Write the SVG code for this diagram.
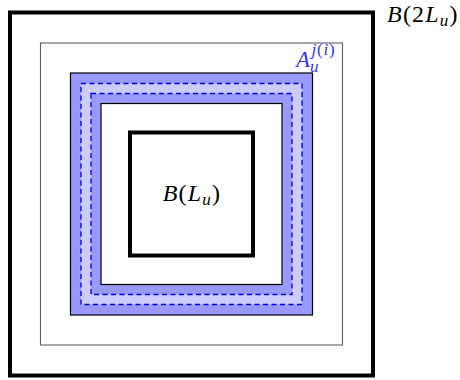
<svg xmlns="http://www.w3.org/2000/svg" width="460" height="380" viewBox="0 0 460 380">
<style>
.thick{fill:none;stroke:#000;stroke-width:4}
.gray{fill:none;stroke:#606060;stroke-width:1.1}
.dash{fill:none;stroke:#0000ee;stroke-width:1.3;stroke-dasharray:5,3.5}
.m{font-family:"Liberation Serif","Times New Roman",serif;font-style:italic;fill:#000}
.r{font-style:normal}
.blue{fill:#3333ff}
</style>
<rect width="460" height="380" fill="#fff"/>
<g id="outer-box">
<rect class="thick" x="10" y="12.5" width="363" height="363"/>
<text class="m" x="387" y="22" font-size="24" letter-spacing="1.2">B<tspan class="r">(2</tspan>L<tspan font-size="17" dy="4">u</tspan><tspan class="r" dy="-4">)</tspan></text>
</g>
<g id="middle-box">
<rect class="gray" x="40.5" y="43" width="302" height="302"/>
</g>
<g id="annulus">
<rect x="70.5" y="73" width="242" height="242" fill="#9999ff" stroke="#000" stroke-width="1.2"/>
<rect x="81" y="83.5" width="221" height="221" fill="#ccccff"/>
<rect x="91" y="93.5" width="201" height="201" fill="#9999ff"/>
<rect class="dash" x="81" y="83.5" width="221" height="221"/>
<rect class="dash" x="91" y="93.5" width="201" height="201"/>
<rect x="101" y="103.5" width="181" height="181" fill="#fff" stroke="#000" stroke-width="1.2"/>
<text class="m blue" x="296" y="67" font-size="23">A<tspan font-size="17" dy="5">u</tspan><tspan font-size="17" dx="-7" dy="-17" letter-spacing="0.8">j<tspan class="r">(</tspan>i<tspan class="r">)</tspan></tspan></text>
</g>
<g id="inner-box">
<rect class="thick" x="130" y="132.5" width="123" height="123"/>
<text class="m" x="192" y="201" font-size="24" text-anchor="middle" letter-spacing="1.2">B<tspan class="r">(</tspan>L<tspan font-size="17" dy="4">u</tspan><tspan class="r" dy="-4">)</tspan></text>
</g>
</svg>
